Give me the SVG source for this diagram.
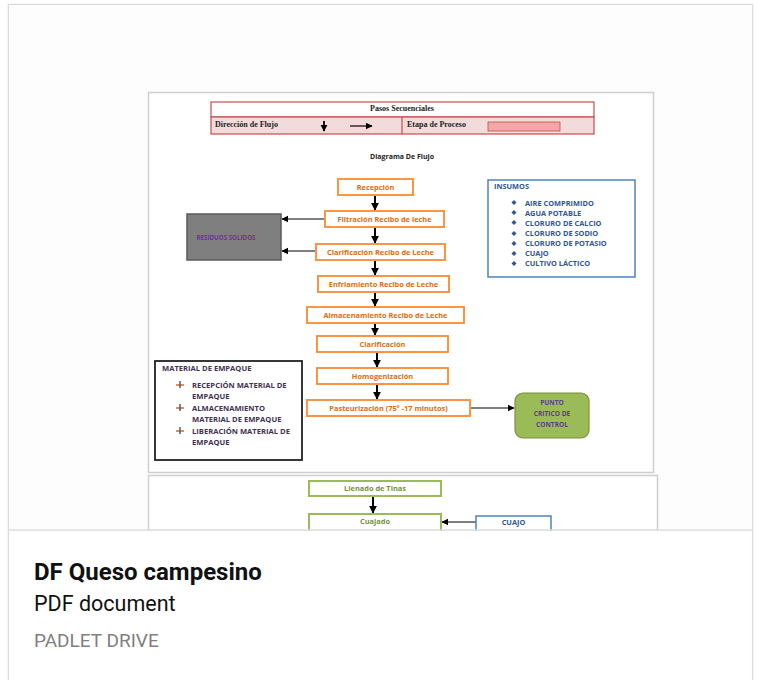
<svg xmlns="http://www.w3.org/2000/svg" width="759" height="680" viewBox="0 0 759 680">
<defs>
<marker id="ah" viewBox="0 0 10 10" refX="9" refY="5" markerWidth="4" markerHeight="4" orient="auto"><path d="M0,0 L10,5 L0,10 z" fill="#000"/></marker>
<marker id="ahs" viewBox="0 0 10 10" refX="9" refY="5" markerWidth="6" markerHeight="6" orient="auto"><path d="M0,0 L10,5 L0,10 z" fill="#000"/></marker>
<style>
.page{fill:#fff;stroke:#cfcfcf;stroke-width:1.5}
.ob{fill:#fff;stroke:#f79646;stroke-width:2}
.ot{font-family:'Open Sans','Liberation Sans',sans-serif;font-weight:bold;font-size:7.4px;fill:#e36c09;text-anchor:middle}
.gb{fill:#fff;stroke:#9bbb59;stroke-width:2}
.gt{font-family:'Open Sans','Liberation Sans',sans-serif;font-weight:bold;font-size:7.4px;fill:#76923c;text-anchor:middle}
.bt{font-family:'Open Sans','Liberation Sans',sans-serif;font-weight:bold;font-size:7.4px;fill:#2f5597}
.pt{font-family:'Open Sans','Liberation Sans',sans-serif;font-weight:bold;font-size:7.6px;fill:#3f3151}
.st{font-family:'Liberation Serif',serif;font-weight:bold;font-size:8px;fill:#222}
.arr{stroke:#000;stroke-width:2;fill:none;marker-end:url(#ah)}
.arrs{stroke:#000;stroke-width:1.2;fill:none;marker-end:url(#ahs)}
.ct{font-family:'Open Sans','Liberation Sans',sans-serif;font-weight:bold;font-size:6.6px;fill:#5f3b8c;text-anchor:middle}
</style>
</defs>
<rect x="0" y="0" width="759" height="680" fill="#fff"/>
<rect x="8.5" y="4.5" width="744" height="680" fill="#fff" stroke="#dcdcdc" stroke-width="1.5"/>
<rect x="9" y="5" width="743" height="525" fill="#fdfdfd"/>

<rect class="page" x="148.5" y="92.5" width="505" height="380"/>
<rect class="page" x="148.5" y="475.5" width="509" height="60"/>

<g id="header">
<rect x="211" y="102" width="383" height="15" fill="#fff" stroke="#c0504d" stroke-width="1.2"/>
<rect x="211" y="117" width="383" height="17" fill="#f2dcdb" stroke="#c0504d" stroke-width="1.2"/>
<line x1="402" y1="117" x2="402" y2="134" stroke="#c0504d" stroke-width="1.2"/>
<text class="st" x="402" y="111" text-anchor="middle">Pasos Secuenciales</text>
<text class="st" x="215" y="127">Dirección  de Flujo</text>
<line x1="324" y1="121" x2="324" y2="131" stroke="#000" stroke-width="1.8" marker-end="url(#ah)"/>
<line x1="350" y1="126" x2="372" y2="126" stroke="#000" stroke-width="1.2" marker-end="url(#ahs)"/>
<text class="st" x="407" y="127">Etapa de Proceso</text>
<rect x="488" y="122" width="72" height="9" fill="#f4a7a5" stroke="#c0504d" stroke-width="0.8"/>
</g>
<text x="402" y="159" font-family="'Open Sans','Liberation Sans',sans-serif" font-weight="bold" font-size="7px" fill="#222" text-anchor="middle">Diagrama De Flujo</text>

<g id="connectors">
<line class="arr" x1="375" y1="195" x2="375" y2="210"/>
<line class="arr" x1="375" y1="227" x2="375" y2="243"/>
<line class="arr" x1="375" y1="260" x2="375" y2="275"/>
<line class="arr" x1="375" y1="292" x2="375" y2="306"/>
<line class="arr" x1="375" y1="323" x2="375" y2="335"/>
<line class="arr" x1="377" y1="352" x2="377" y2="367"/>
<line class="arr" x1="377" y1="384" x2="377" y2="399"/>
<line class="arrs" x1="325" y1="219" x2="282" y2="219"/>
<line class="arrs" x1="316" y1="251" x2="282" y2="251"/>
<line class="arrs" x1="470" y1="408" x2="514" y2="408"/>
<line class="arr" x1="373" y1="496" x2="373" y2="513"/>
<line class="arrs" x1="476" y1="522" x2="442" y2="522"/>
</g>

<g id="recepcion"><rect class="ob" x="338" y="179" width="75" height="16"/><text class="ot" x="375.5" y="190">Recepción</text></g>
<g id="filtracion"><rect class="ob" x="325" y="211" width="119" height="16"/><text class="ot" x="384.5" y="222">Filtración Recibo de leche</text></g>
<g id="clarificacion-recibo"><rect class="ob" x="316" y="244" width="129" height="16"/><text class="ot" x="380.5" y="255">Clarificación Recibo de Leche</text></g>
<g id="enfriamiento"><rect class="ob" x="318" y="276" width="131" height="16"/><text class="ot" x="383.5" y="287">Enfriamiento Recibo de Leche</text></g>
<g id="almacenamiento"><rect class="ob" x="307" y="307" width="157" height="16"/><text class="ot" x="385.5" y="318">Almacenamiento Recibo de Leche</text></g>
<g id="clarificacion"><rect class="ob" x="317" y="336" width="131" height="16"/><text class="ot" x="382.5" y="347">Clarificación</text></g>
<g id="homogenizacion"><rect class="ob" x="317" y="368" width="131" height="16"/><text class="ot" x="382.5" y="379">Homogenización</text></g>
<g id="pasteurizacion"><rect class="ob" x="307" y="400" width="163" height="16"/><text class="ot" x="388.5" y="411" font-size="7px">Pasteurización (75° -17 minutos)</text></g>

<g id="residuos">
<rect x="187" y="214" width="94" height="46" fill="#7f7f7f" stroke="#5a5a5a" stroke-width="1.5"/>
<text x="226" y="240" font-family="'Open Sans','Liberation Sans',sans-serif" font-weight="bold" font-size="6.2px" fill="#7030a0" text-anchor="middle">RESIDUOS SOLIDOS</text>
</g>

<g id="insumos">
<rect x="488" y="180" width="147" height="97" fill="#fff" stroke="#4f81bd" stroke-width="1.5"/>
<text class="bt" x="494" y="189">INSUMOS</text>
<g fill="#2f5597">
<path d="M514,200 l2.5,2.5 l-2.5,2.5 l-2.5,-2.5 z"/>
<path d="M514,210 l2.5,2.5 l-2.5,2.5 l-2.5,-2.5 z"/>
<path d="M514,220 l2.5,2.5 l-2.5,2.5 l-2.5,-2.5 z"/>
<path d="M514,231 l2.5,2.5 l-2.5,2.5 l-2.5,-2.5 z"/>
<path d="M514,241 l2.5,2.5 l-2.5,2.5 l-2.5,-2.5 z"/>
<path d="M514,251 l2.5,2.5 l-2.5,2.5 l-2.5,-2.5 z"/>
<path d="M514,261 l2.5,2.5 l-2.5,2.5 l-2.5,-2.5 z"/>
</g>
<text class="bt" x="525" y="205.5">AIRE COMPRIMIDO</text>
<text class="bt" x="525" y="215.5">AGUA POTABLE</text>
<text class="bt" x="525" y="225.5">CLORURO DE CALCIO</text>
<text class="bt" x="525" y="236">CLORURO DE SODIO</text>
<text class="bt" x="525" y="246">CLORURO DE POTASIO</text>
<text class="bt" x="525" y="256">CUAJO</text>
<text class="bt" x="525" y="266">CULTIVO LÁCTICO</text>
</g>

<g id="material-empaque">
<rect x="155" y="361" width="147" height="99" fill="#fff" stroke="#222" stroke-width="1.8"/>
<text class="pt" x="162" y="371">MATERIAL DE EMPAQUE</text>
<g stroke-width="1.4">
<line x1="176" y1="385" x2="184" y2="385" stroke="#e06000"/><line x1="180" y1="381" x2="180" y2="388" stroke="#2f5597"/>
<line x1="176" y1="408" x2="184" y2="408" stroke="#e06000"/><line x1="180" y1="404" x2="180" y2="411" stroke="#2f5597"/>
<line x1="176" y1="431" x2="184" y2="431" stroke="#e06000"/><line x1="180" y1="427" x2="180" y2="434" stroke="#2f5597"/>
</g>
<text class="pt" x="192" y="388">RECEPCIÓN MATERIAL DE</text>
<text class="pt" x="192" y="399">EMPAQUE</text>
<text class="pt" x="192" y="411">ALMACENAMIENTO</text>
<text class="pt" x="192" y="422">MATERIAL DE EMPAQUE</text>
<text class="pt" x="192" y="434">LIBERACIÓN MATERIAL DE</text>
<text class="pt" x="192" y="445">EMPAQUE</text>
</g>

<g id="punto-critico">
<rect x="515" y="393" width="74" height="45" rx="8" fill="#9bbb59" stroke="#77933c" stroke-width="1.2"/>
<text class="ct" x="552" y="405">PUNTO</text>
<text class="ct" x="552" y="416">CRITICO DE</text>
<text class="ct" x="552" y="427">CONTROL</text>
</g>

<g id="llenado"><rect class="gb" x="309" y="481" width="132" height="15"/><text class="gt" x="375" y="491">Llenado de Tinas</text></g>
<g id="cuajado"><rect class="gb" x="309" y="514" width="132" height="20"/><text class="gt" x="375" y="524">Cuajado</text></g>
<g id="cuajo"><rect x="476" y="516" width="75" height="18" fill="#fff" stroke="#4f81bd" stroke-width="1.5"/><text class="bt" x="513.5" y="525" text-anchor="middle">CUAJO</text></g>

<rect x="9.25" y="531" width="742.5" height="148" fill="#fff"/>
<line x1="9" y1="530" x2="752" y2="530" stroke="#dcdcdc" stroke-width="1.5"/>
<text x="34" y="580" font-family="Roboto,'Liberation Sans',sans-serif" font-weight="bold" font-size="24px" fill="#111">DF Queso campesino</text>
<text x="34" y="611" font-family="Roboto,'Liberation Sans',sans-serif" font-size="21.5px" fill="#111">PDF document</text>
<text x="34" y="647" font-family="Roboto,'Liberation Sans',sans-serif" font-size="19px" fill="#808080">PADLET DRIVE</text>
</svg>
